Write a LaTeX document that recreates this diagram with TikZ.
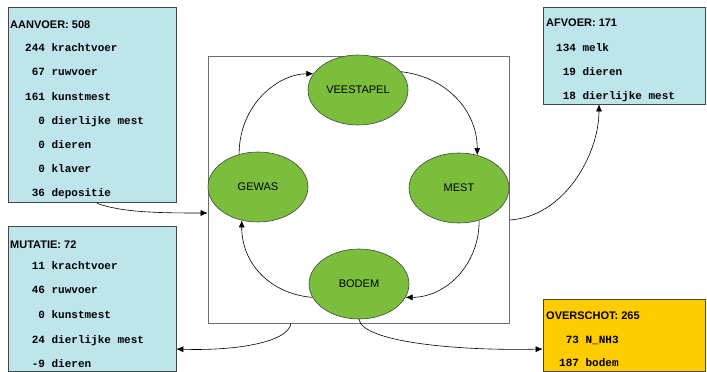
\documentclass[tikz,border=0pt]{standalone}
\usepackage{fontspec}
\setmainfont{Liberation Sans}
\newfontfamily\monof{Liberation Mono}
\usetikzlibrary{arrows.meta,shapes.geometric,calc}
\definecolor{boxblue}{RGB}{190,228,236}
\definecolor{boxgold}{RGB}{255,204,0}
\definecolor{ellgreen}{RGB}{122,190,60}
\definecolor{edgegray}{RGB}{70,70,70}
\definecolor{framegray}{RGB}{110,110,110}
\newcommand\dsp{\phantom{0}}
\tikzset{
  panel/.style={draw=edgegray, line width=0.7pt, rectangle, inner sep=0pt},
  mainframe/.style={draw=framegray, line width=0.7pt, rectangle, inner sep=0pt, fill=white},
  blob/.style={ellipse, draw=edgegray, line width=0.6pt, fill=ellgreen, minimum width=100pt, minimum height=70pt, inner sep=0pt, font=\fontsize{11}{13}\selectfont},
  ttl/.style={anchor=west, inner sep=0pt, font=\bfseries\fontsize{11}{13}\selectfont, text height=8pt, text depth=0pt},
  ln/.style={anchor=west, inner sep=0pt, font=\monof\bfseries\fontsize{11}{13}\selectfont, text height=7pt, text depth=2pt},
  conn/.style={draw=black, line width=0.6pt, -{Latex[length=7pt,width=6pt]}}
}
\begin{document}
\begin{tikzpicture}[x=1pt,y=-1pt]
\useasboundingbox (0,0) rectangle (707,372);
\fill[white] (0,0) rectangle (707,372);

% main frame
\node[mainframe, minimum width=301pt, minimum height=267pt] (main) at (358.5,189.5) {};

% side panels
\node[panel, fill=boxblue, minimum width=168pt, minimum height=195pt] (aanvoer) at (92,104.5) {};
\node[panel, fill=boxblue, minimum width=168pt, minimum height=145pt] (mutatie) at (92,298.5) {};
\node[panel, fill=boxblue, minimum width=162pt, minimum height=97pt] (afvoer) at (624,55.5) {};
\node[panel, fill=boxgold, minimum width=162pt, minimum height=72pt] (overschot) at (624,335) {};

% AANVOER texts
\node[ttl] (t1) at (10,24) {AANVOER: 508};
\node[ln] (a1) at (25,49) {244 krachtvoer};
\node[ln] (a2) at (25,73) {\dsp67 ruwvoer};
\node[ln] (a3) at (25,98) {161 kunstmest};
\node[ln] (a4) at (25,122) {\dsp\dsp0 dierlijke mest};
\node[ln] (a5) at (25,146) {\dsp\dsp0 dieren};
\node[ln] (a6) at (25,170) {\dsp\dsp0 klaver};
\node[ln] (a7) at (25,194) {\dsp36 depositie};

% MUTATIE texts
\node[ttl] (t2) at (10,244) {MUTATIE: 72};
\node[ln] (m1) at (25,267) {\dsp11 krachtvoer};
\node[ln] (m2) at (25,291) {\dsp46 ruwvoer};
\node[ln] (m3) at (25,316) {\dsp\dsp0 kunstmest};
\node[ln] (m4) at (25,341) {\dsp24 dierlijke mest};
\node[ln] (m5) at (25,365) {\dsp-9 dieren};

% AFVOER texts
\node[ttl] (t3) at (546,23) {AFVOER: 171};
\node[ln] (f1) at (556,49) {134 melk};
\node[ln] (f2) at (556,73) {\dsp19 dieren};
\node[ln] (f3) at (556,97) {\dsp18 dierlijke mest};

% OVERSCHOT texts
\node[ttl] (t4) at (546,315) {OVERSCHOT: 265};
\node[ln] (o1) at (559,341) {\dsp73 N\_NH3};
\node[ln] (o2) at (559,364) {187 bodem};

% ellipses
\node[blob] (veestapel) at (358,90) {VEESTAPEL};
\node[blob] (gewas) at (258,187) {GEWAS};
\node[blob] (mest) at (459,188) {MEST};
\node[blob] (bodem) at (359,284) {BODEM};

% cycle connectors
\draw[conn] (gewas.120) .. controls +(0,-50) and +(-35,0) .. (veestapel.160);
\draw[conn] (veestapel.23) .. controls +(45,5) and +(0,-45) .. (mest.61);
\draw[conn] (mest.-58) .. controls +(0,45) and +(40,0) .. (bodem.-16);
\draw[conn] (bodem.196) .. controls +(-40,-3) and +(0,45) .. (gewas.244);

% external connectors
\draw[conn] ($(aanvoer.south)+(5,1)$) .. controls +(25,9) and +(-50,0) .. ($(main.west)+(0,23.5)$);
\draw[conn] ($(main.east)+(0,30.5)$) .. controls +(55,-3) and +(0,50) .. ($(afvoer.south)+(-25,0)$);
\draw[conn] ($(main.south)+(-67.5,0)$) .. controls +(-3,20) and +(55,2) .. ($(mutatie.east)+(0,50.5)$);
\draw[conn] (bodem.south) .. controls +(3,22) and +(-90,2) .. ($(overschot.west)+(0,14)$);
\end{tikzpicture}
\end{document}
